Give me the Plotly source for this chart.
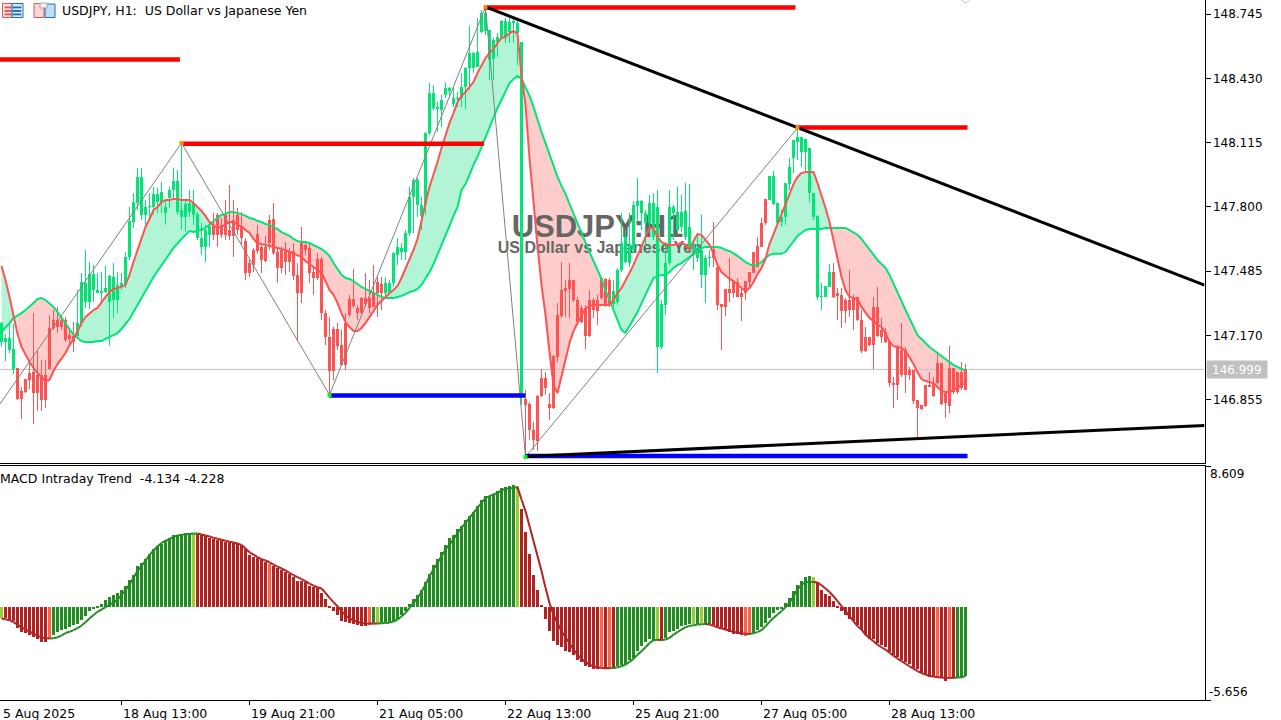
import plotly.graph_objects as go
from plotly.subplots import make_subplots

# USDJPY H1 candles, one row = 10 bars
highs = [
147.236,147.177,147.231,147.226,147.011,146.918,146.957,147.050,147.280,147.094,
147.050,147.050,147.270,147.295,147.310,147.270,147.261,147.197,147.236,147.393,
147.476,147.589,147.530,147.516,147.476,147.481,147.511,147.467,147.525,147.481,
147.476,147.579,147.800,147.868,147.991,147.991,147.834,147.868,147.898,147.893,
147.922,147.834,147.898,147.991,147.981,148.113,147.834,147.883,147.883,147.775,
147.721,147.712,147.726,147.770,147.770,147.746,147.834,147.908,147.834,147.795,
147.775,147.648,147.540,147.599,147.712,147.623,147.658,147.761,147.819,147.599,
147.604,147.628,147.599,147.623,147.525,147.702,147.628,147.623,147.501,147.574,
147.555,147.295,147.261,147.212,147.231,147.197,147.280,147.369,147.496,147.320,
147.359,147.476,147.442,147.516,147.457,147.457,147.457,147.442,147.579,147.648,
147.623,147.687,147.898,147.942,147.942,147.849,148.167,148.407,148.397,148.314,
148.349,148.412,148.388,148.388,148.363,148.456,148.486,148.687,148.559,148.726,
148.765,148.780,148.667,148.628,148.652,148.716,148.726,148.741,148.731,148.716,
148.608,146.903,146.844,146.746,146.879,147.006,146.991,146.888,147.075,147.329,
147.530,147.442,147.525,147.442,147.359,147.320,147.320,147.393,147.354,147.369,
147.452,147.452,147.452,147.442,147.501,147.770,147.687,147.770,147.829,147.942,
147.834,147.785,147.859,147.868,147.883,147.344,147.628,147.883,147.810,147.898,
147.859,147.917,147.912,147.638,147.663,147.761,147.565,147.589,147.726,147.506,
147.324,147.398,147.550,147.437,147.452,147.408,147.437,147.481,147.579,147.653,
147.746,147.839,147.952,147.976,147.819,147.785,147.883,148.040,148.128,148.187,
148.143,148.133,148.089,147.868,147.756,147.427,147.413,147.520,147.525,147.403,
147.403,147.354,147.491,147.369,147.359,147.295,147.212,147.163,147.359,147.408,
147.256,147.207,147.143,146.967,147.123,147.231,147.114,147.016,147.001,146.854,
146.830,146.928,146.991,146.967,147.089,147.035,146.888,147.119,147.011,146.991,
147.040,147.030]

body_tops = [
147.231,147.158,147.158,147.104,147.011,146.898,146.957,146.986,146.991,146.976,
146.976,146.976,147.207,147.246,147.246,147.246,147.246,147.173,147.168,147.231,
147.432,147.427,147.471,147.471,147.393,147.388,147.403,147.462,147.457,147.418,
147.427,147.555,147.731,147.824,147.947,147.947,147.800,147.805,147.863,147.863,
147.873,147.800,147.883,147.927,147.927,147.785,147.814,147.819,147.819,147.765,
147.648,147.687,147.707,147.712,147.761,147.712,147.761,147.687,147.736,147.761,
147.707,147.633,147.525,147.589,147.667,147.604,147.604,147.736,147.741,147.579,
147.589,147.589,147.579,147.584,147.467,147.628,147.614,147.599,147.481,147.545,
147.545,147.280,147.163,147.202,147.202,147.123,147.231,147.349,147.349,147.305,
147.354,147.354,147.354,147.383,147.432,147.422,147.427,147.427,147.574,147.604,
147.599,147.672,147.849,147.932,147.932,147.810,148.162,148.358,148.358,148.290,
148.324,148.383,148.383,148.334,148.334,148.388,148.481,148.554,148.554,148.559,
148.750,148.750,148.667,148.618,148.633,148.711,148.711,148.706,148.711,148.701,
148.608,146.859,146.834,146.707,146.874,146.962,146.962,146.834,147.070,147.270,
147.393,147.403,147.442,147.442,147.344,147.305,147.305,147.344,147.344,147.344,
147.452,147.447,147.442,147.388,147.491,147.623,147.653,147.614,147.810,147.829,
147.829,147.770,147.819,147.819,147.800,147.324,147.525,147.800,147.800,147.775,
147.775,147.780,147.702,147.614,147.599,147.589,147.550,147.555,147.594,147.506,
147.324,147.398,147.398,147.437,147.432,147.378,147.437,147.481,147.579,147.609,
147.721,147.839,147.952,147.952,147.819,147.751,147.917,147.996,148.128,148.143,
148.143,148.133,148.089,147.868,147.756,147.364,147.413,147.481,147.481,147.378,
147.369,147.344,147.344,147.354,147.359,147.246,147.163,147.163,147.310,147.310,
147.197,147.187,147.143,146.937,147.109,147.099,147.099,147.001,147.001,146.854,
146.830,146.928,146.928,146.937,147.035,147.035,146.888,147.011,147.011,146.991,
146.991,147.006]

body_bottoms = [
147.138,147.138,147.099,147.006,146.859,146.859,146.893,146.952,146.888,146.888,
146.854,146.854,147.006,147.207,147.212,147.212,147.148,147.153,147.138,147.168,
147.231,147.334,147.334,147.393,147.378,147.378,147.383,147.334,147.344,147.344,
147.408,147.418,147.555,147.726,147.819,147.761,147.761,147.800,147.800,147.824,
147.824,147.770,147.844,147.883,147.775,147.751,147.751,147.775,147.761,147.648,
147.604,147.604,147.663,147.663,147.663,147.663,147.663,147.658,147.658,147.687,
147.648,147.476,147.476,147.516,147.584,147.540,147.535,147.623,147.574,147.501,
147.501,147.530,147.530,147.462,147.378,147.378,147.589,147.476,147.452,147.452,
147.280,147.163,146.996,146.996,147.118,147.025,147.025,147.270,147.315,147.280,
147.280,147.324,147.305,147.310,147.378,147.378,147.378,147.383,147.427,147.565,
147.579,147.579,147.672,147.849,147.810,147.756,147.810,148.162,148.285,148.280,
148.275,148.349,148.368,148.304,148.329,148.334,148.388,148.481,148.481,148.486,
148.657,148.662,148.520,148.525,148.608,148.633,148.633,148.657,148.701,148.652,
146.888,146.830,146.707,146.658,146.653,146.874,146.913,146.815,146.815,147.065,
147.266,147.388,147.398,147.344,147.236,147.236,147.168,147.168,147.295,147.290,
147.354,147.320,147.320,147.324,147.334,147.491,147.530,147.525,147.589,147.805,
147.770,147.721,147.721,147.653,147.114,147.114,147.320,147.525,147.770,147.687,
147.702,147.653,147.599,147.565,147.550,147.467,147.467,147.550,147.550,147.320,
147.310,147.310,147.378,147.378,147.359,147.359,147.378,147.432,147.476,147.506,
147.604,147.721,147.834,147.814,147.721,147.726,147.751,147.912,148.040,148.118,
148.069,148.069,147.868,147.751,147.359,147.359,147.359,147.408,147.359,147.364,
147.290,147.290,147.295,147.295,147.246,147.094,147.094,147.123,147.123,147.168,
147.163,147.138,146.937,146.927,146.927,146.977,146.977,146.977,146.849,146.815,
146.810,146.825,146.918,146.874,146.937,146.834,146.839,146.825,146.893,146.893,
146.913,146.903]

lows = [
147.114,147.045,147.084,146.981,146.854,146.761,146.888,146.908,146.736,146.800,
146.800,146.815,147.006,147.197,147.183,147.197,147.138,147.123,147.089,147.163,
147.212,147.305,147.300,147.334,147.378,147.329,147.378,147.119,147.256,147.280,
147.393,147.403,147.540,147.697,147.785,147.736,147.712,147.736,147.761,147.770,
147.770,147.712,147.795,147.834,147.761,147.687,147.677,147.751,147.712,147.638,
147.564,147.530,147.604,147.638,147.604,147.648,147.638,147.638,147.555,147.663,
147.614,147.442,147.457,147.481,147.570,147.476,147.530,147.589,147.564,147.427,
147.476,147.467,147.481,147.442,147.143,147.329,147.564,147.427,147.369,147.442,
147.246,147.123,146.879,146.952,147.099,147.025,147.001,147.261,147.305,147.246,
147.275,147.310,147.280,147.310,147.261,147.295,147.359,147.369,147.408,147.516,
147.540,147.540,147.658,147.672,147.751,147.687,147.761,148.152,148.275,148.167,
148.192,148.334,148.339,148.290,148.290,148.290,148.280,148.373,148.456,148.486,
148.652,148.643,148.422,148.422,148.535,148.628,148.603,148.603,148.603,148.495,
146.830,146.575,146.658,146.609,146.604,146.869,146.879,146.756,146.810,147.040,
147.256,147.261,147.256,147.334,147.231,147.231,147.104,147.163,147.256,147.222,
147.344,147.310,147.310,147.310,147.320,147.481,147.525,147.506,147.574,147.726,
147.687,147.604,147.672,147.638,146.986,147.104,147.270,147.516,147.638,147.672,
147.677,147.638,147.589,147.491,147.530,147.403,147.329,147.506,147.506,147.295,
147.099,147.266,147.334,147.354,147.359,147.241,147.344,147.403,147.476,147.501,
147.604,147.712,147.834,147.809,147.712,147.702,147.712,147.883,147.966,148.030,
147.996,147.966,147.824,147.736,147.344,147.295,147.359,147.408,147.354,147.246,
147.207,147.231,147.261,147.197,147.241,147.084,147.089,147.118,147.006,147.163,
147.133,147.133,146.918,146.815,146.854,146.967,146.888,146.952,146.834,146.668,
146.805,146.820,146.918,146.869,146.932,146.829,146.766,146.790,146.883,146.883,
146.903,146.903]

# moving average pair that drives the candle colour and the band
ma_fast = [
147.511,147.442,147.359,147.270,147.177,147.114,147.075,147.040,147.011,146.986,
146.967,146.947,146.952,146.996,147.030,147.060,147.084,147.123,147.153,147.192,
147.231,147.261,147.280,147.295,147.305,147.334,147.359,147.383,147.398,147.403,
147.408,147.418,147.467,147.530,147.589,147.638,147.702,147.741,147.785,147.800,
147.824,147.834,147.834,147.839,147.839,147.834,147.834,147.834,147.819,147.800,
147.780,147.756,147.726,147.707,147.697,147.702,147.716,147.726,147.726,147.716,
147.702,147.687,147.672,147.643,147.623,147.618,147.614,147.609,147.604,147.599,
147.594,147.589,147.579,147.570,147.565,147.555,147.535,147.520,147.506,147.491,
147.476,147.437,147.393,147.369,147.329,147.280,147.236,147.212,147.192,147.192,
147.207,147.231,147.261,147.290,147.320,147.339,147.359,147.378,147.393,147.413,
147.452,147.496,147.540,147.589,147.643,147.736,147.819,147.898,147.957,148.020,
148.089,148.152,148.211,148.260,148.314,148.344,148.363,148.388,148.412,148.456,
148.495,148.530,148.554,148.574,148.603,148.628,148.633,148.652,148.662,148.647,
148.447,148.300,148.040,147.810,147.609,147.418,147.270,147.089,146.927,146.888,
146.967,147.060,147.133,147.192,147.231,147.270,147.300,147.315,147.320,147.320,
147.320,147.320,147.320,147.344,147.378,147.403,147.437,147.476,147.516,147.560,
147.604,147.653,147.697,147.697,147.653,147.628,147.618,147.614,147.614,147.618,
147.623,147.614,147.589,147.633,147.667,147.663,147.638,147.614,147.570,147.516,
147.481,147.462,147.447,147.437,147.418,147.403,147.388,147.403,147.432,147.471,
147.501,147.545,147.618,147.667,147.707,147.761,147.810,147.858,147.912,147.947,
147.966,147.971,147.971,147.971,147.917,147.858,147.795,147.726,147.638,147.540,
147.457,147.393,147.359,147.354,147.349,147.310,147.280,147.256,147.241,147.221,
147.212,147.182,147.138,147.118,147.114,147.109,147.094,147.065,147.030,146.991,
146.957,146.947,146.942,146.937,146.918,146.898,146.893,146.893,146.903,146.913,
146.928,146.937]

ma_slow = [
147.187,147.207,147.231,147.256,147.266,147.280,147.295,147.310,147.329,147.349,
147.354,147.344,147.329,147.310,147.285,147.256,147.226,147.197,147.173,147.158,
147.143,147.138,147.138,147.138,147.143,147.143,147.153,147.163,147.173,147.182,
147.202,147.226,147.251,147.285,147.320,147.359,147.393,147.422,147.457,147.486,
147.516,147.540,147.570,147.599,147.623,147.643,147.663,147.682,147.677,147.682,
147.687,147.697,147.716,147.731,147.746,147.761,147.766,147.775,147.775,147.770,
147.765,147.756,147.746,147.741,147.731,147.726,147.716,147.712,147.702,147.692,
147.677,147.667,147.658,147.643,147.633,147.628,147.628,147.623,147.614,147.604,
147.594,147.579,147.560,147.525,147.496,147.467,147.452,147.447,147.437,147.422,
147.408,147.398,147.388,147.378,147.369,147.359,147.354,147.354,147.354,147.359,
147.364,147.373,147.383,147.388,147.398,147.418,147.447,147.481,147.520,147.565,
147.614,147.663,147.707,147.756,147.800,147.883,147.912,147.957,148.006,148.045,
148.094,148.138,148.187,148.241,148.285,148.324,148.368,148.407,148.427,148.442,
148.427,148.388,148.344,148.290,148.226,148.167,148.113,148.054,147.996,147.947,
147.903,147.864,147.814,147.770,147.721,147.672,147.623,147.579,147.535,147.491,
147.447,147.393,147.344,147.295,147.246,147.197,147.183,147.217,147.251,147.285,
147.329,147.373,147.408,147.452,147.462,147.467,147.467,147.481,147.501,147.516,
147.525,147.540,147.555,147.570,147.584,147.599,147.604,147.604,147.604,147.604,
147.599,147.589,147.584,147.574,147.560,147.545,147.530,147.520,147.511,147.516,
147.530,147.550,147.565,147.570,147.570,147.570,147.579,147.604,147.633,147.658,
147.672,147.687,147.692,147.692,147.692,147.692,147.697,147.697,147.697,147.697,
147.697,147.697,147.687,147.677,147.663,147.643,147.618,147.589,147.565,147.540,
147.520,147.501,147.467,147.427,147.383,147.339,147.295,147.251,147.207,147.172,
147.153,147.133,147.114,147.099,147.084,147.069,147.055,147.040,147.025,147.016,
147.006,147.001]

# MACD Intraday Trend panel
macd_hist = [
-0.65,-0.65,-0.75,-0.85,-1.26,-1.52,-1.57,-1.67,-1.81,-1.91,
-2.13,-2.13,-1.91,-1.67,-1.52,-1.40,-1.30,-1.20,-1.10,-1.02,
-0.75,-0.55,-0.24,-0.08,0.08,0.20,0.47,0.61,0.77,0.87,
1.08,1.28,1.63,1.99,2.50,2.70,2.97,3.25,3.52,3.76,
3.88,4.07,4.23,4.43,4.43,4.49,4.53,4.55,4.49,4.49,
4.39,4.33,4.19,4.15,4.09,4.07,3.98,3.96,3.92,3.88,
3.82,3.52,3.21,3.05,3.01,2.91,2.74,2.66,2.54,2.40,
2.24,2.15,2.05,1.83,1.59,1.59,1.55,1.32,1.24,1.18,
0.87,0.53,0.04,-0.24,-0.49,-0.85,-0.89,-0.96,-1.02,-1.10,
-1.12,-1.16,-1.10,-0.98,-0.98,-0.96,-0.91,-0.89,-0.85,-0.69,
-0.49,-0.24,0.20,0.49,0.77,1.02,1.55,2.05,2.56,2.97,
3.37,3.82,4.23,4.43,4.74,4.94,5.29,5.55,5.81,6.16,
6.51,6.75,6.81,6.91,7.07,7.24,7.30,7.42,7.48,7.40,
5.96,4.59,3.27,1.99,1.02,0.16,-0.69,-1.46,-2.03,-2.32,
-2.44,-2.68,-2.72,-2.89,-3.19,-3.35,-3.60,-3.64,-3.74,-3.76,
-3.66,-3.76,-3.76,-3.78,-3.60,-3.50,-3.44,-3.19,-3.09,-2.68,
-2.38,-2.11,-1.91,-1.97,-1.99,-1.97,-1.87,-1.52,-1.42,-1.30,
-1.16,-1.06,-1.02,-1.02,-1.02,-0.98,-1.02,-1.02,-1.06,-1.20,
-1.26,-1.40,-1.52,-1.61,-1.61,-1.67,-1.73,-1.67,-1.57,-1.40,
-1.22,-0.96,-0.65,-0.35,-0.18,-0.08,0.28,0.57,0.98,1.34,
1.59,1.83,1.89,1.83,1.55,1.08,0.83,0.67,0.37,0.06,
-0.24,-0.49,-0.69,-0.85,-1.10,-1.36,-1.67,-1.91,-1.91,-2.18,
-2.28,-2.44,-2.72,-2.93,-3.05,-3.19,-3.33,-3.44,-3.70,-3.74,
-4.01,-4.15,-4.25,-4.27,-4.31,-4.31,-4.47,-4.31,-4.31,-4.31,
-4.31,-4.17]

macd_signal = [
-0.69,-0.73,-0.79,-0.91,-1.06,-1.22,-1.36,-1.48,-1.61,-1.73,
-1.83,-1.89,-1.91,-1.89,-1.83,-1.73,-1.57,-1.50,-1.40,-1.28,
-1.12,-0.91,-0.69,-0.47,-0.28,-0.14,0.00,0.14,0.28,0.47,
0.73,1.04,1.38,1.79,2.20,2.50,2.85,3.17,3.46,3.70,
3.92,4.05,4.15,4.29,4.37,4.41,4.45,4.47,4.49,4.49,
4.43,4.37,4.31,4.23,4.17,4.11,4.05,4.00,3.94,3.88,
3.80,3.58,3.35,3.21,3.05,2.93,2.85,2.74,2.60,2.48,
2.36,2.24,2.10,1.95,1.83,1.71,1.59,1.44,1.32,1.22,
1.14,0.87,0.57,0.31,0.06,-0.24,-0.49,-0.67,-0.81,-0.89,
-0.96,-1.00,-1.00,-1.00,-1.00,-0.98,-0.96,-0.94,-0.87,-0.75,
-0.57,-0.35,-0.04,0.26,0.57,0.93,1.38,1.89,2.30,2.70,
3.11,3.52,3.82,4.13,4.53,4.84,5.14,5.45,5.75,6.06,
6.36,6.67,6.77,6.87,6.97,7.12,7.22,7.24,7.28,7.32,
6.57,5.86,4.95,4.03,3.13,2.21,1.18,0.26,-0.45,-0.96,
-1.46,-1.83,-2.18,-2.58,-2.89,-3.15,-3.33,-3.50,-3.60,-3.66,
-3.70,-3.72,-3.72,-3.70,-3.66,-3.60,-3.50,-3.33,-3.15,-2.89,
-2.68,-2.44,-2.18,-2.01,-1.99,-2.01,-1.97,-1.87,-1.67,-1.52,
-1.36,-1.22,-1.14,-1.10,-1.06,-1.04,-1.02,-1.06,-1.14,-1.22,
-1.30,-1.36,-1.42,-1.50,-1.54,-1.59,-1.61,-1.63,-1.59,-1.52,
-1.40,-1.16,-0.89,-0.65,-0.45,-0.24,0.00,0.26,0.67,1.08,
1.38,1.52,1.54,1.54,1.50,1.34,1.14,0.93,0.67,0.37,
0.06,-0.24,-0.55,-0.85,-1.16,-1.36,-1.67,-1.87,-2.07,-2.28,
-2.44,-2.58,-2.78,-2.95,-3.13,-3.29,-3.44,-3.60,-3.74,-3.90,
-4.01,-4.11,-4.19,-4.23,-4.27,-4.29,-4.31,-4.31,-4.31,-4.29,
-4.27,-4.19]

# bar categories that the histogram colours follow
rising_runs = [(13, 47), (93, 128), (154, 163), (166, 172), (174, 174), (176, 177), (188, 202), (239, 241)]
turn_up_bars = [0, 48, 94, 129, 164, 173, 175, 203]
turn_down_bars = [12, 67, 92, 150, 152, 186, 187, 234, 237]

# swing points of the zigzag, as bar number and price
swing_bars = [-0.4, 45, 82, 121, 131, 199]
swing_prices = [146.834, 148.113, 146.879, 148.780, 146.575, 148.187]

# support / resistance levels: (first bar, last bar, price)
resistance_levels = [(-0.4, 44.6, 148.522), (45.4, 120.6, 148.110), (120.6, 198.5, 148.777), (199, 241.5, 148.189)]
support_levels = [(82, 131, 146.876), (131, 241.5, 146.579)]
trend_upper_bars = [121, 300.75]
trend_upper_prices = [148.780, 147.417]
trend_lower_bars = [131, 300.75]
trend_lower_prices = [146.577, 146.729]
last_price_level = 147.004

x_range = [-0.375, 300.75]
price_range = [146.5438, 148.814]
price_ticks = [148.745, 148.430, 148.115, 147.800, 147.485, 147.170, 146.855]
macd_range = [-5.656, 8.609]
time_tick_bars = [30, 62, 94, 126, 158, 190, 222]
time_labels = ["18 Aug 13:00", "19 Aug 21:00", "21 Aug 05:00", "22 Aug 13:00",
               "25 Aug 21:00", "27 Aug 05:00", "28 Aug 13:00"]

GREEN = "#00E676"
RED = "#FF5252"
W, H = 1281, 720
FONT = "DejaVu Sans"


def px(x):
    return x / W


def py(y):
    return 1 - y / H


bars = list(range(len(highs)))
is_up = [f >= s for f, s in zip(ma_fast, ma_slow)]

fig = make_subplots(rows=2, cols=1, shared_xaxes=True)

# band between the two averages, one polygon per trend run
start = 0
for i in range(1, len(bars) + 1):
    if i == len(bars) or is_up[i] != is_up[start]:
        end = min(i, len(bars) - 1)
        xs = bars[start:end + 1]
        fig.add_trace(go.Scatter(x=xs + xs[::-1],
                                 y=ma_fast[start:end + 1] + ma_slow[start:end + 1][::-1],
                                 mode="none", fill="toself",
                                 fillcolor="#B2F5D6" if is_up[start] else "#FFCCCC",
                                 hoverinfo="skip"), row=1, col=1)
        start = i

# watermark sits over the band but under the candles
fig.add_trace(go.Scatter(x=[149], y=[147.690], mode="text", text=["<b>USDJPY:H1</b>"],
                         textfont=dict(family="Liberation Sans", size=31, color="#666666"),
                         textposition="middle center", hoverinfo="skip"), row=1, col=1)
fig.add_trace(go.Scatter(x=[149.6], y=[147.595], mode="text", text=["<b>US Dollar vs Japanese Yen</b>"],
                         textfont=dict(family="Liberation Sans", size=16, color="#666666"),
                         textposition="middle center", hoverinfo="skip"), row=1, col=1)

fig.add_trace(go.Scatter(x=x_range, y=[last_price_level] * 2, mode="lines",
                         line=dict(color="#C0C0C0", width=1), hoverinfo="skip"), row=1, col=1)

# candles: colour comes from the trend, not from open/close
for up, color in ((True, GREEN), (False, RED)):
    wx, wy, bx, by = [], [], [], []
    for i in bars:
        if is_up[i] == up:
            wx += [i, i, None]
            wy += [highs[i], lows[i], None]
            bx += [i, i, None]
            by += [body_tops[i], body_bottoms[i], None]
    fig.add_trace(go.Scatter(x=wx, y=wy, mode="lines", line=dict(color=color, width=1), hoverinfo="skip"), row=1, col=1)
    fig.add_trace(go.Scatter(x=bx, y=by, mode="lines", line=dict(color=color, width=3), hoverinfo="skip"), row=1, col=1)

fig.add_trace(go.Scatter(x=bars, y=ma_slow, mode="lines", line=dict(color=GREEN, width=2)), row=1, col=1)
fig.add_trace(go.Scatter(x=bars, y=ma_fast, mode="lines", line=dict(color=RED, width=2)), row=1, col=1)

fig.add_trace(go.Scatter(x=swing_bars, y=swing_prices, mode="lines",
                         line=dict(color="#808080", width=1)), row=1, col=1)

for x0, x1, level in resistance_levels:
    fig.add_trace(go.Scatter(x=[x0, x1], y=[level, level], mode="lines",
                             line=dict(color="#FF0000", width=4.5)), row=1, col=1)
for x0, x1, level in support_levels:
    fig.add_trace(go.Scatter(x=[x0, x1], y=[level, level], mode="lines",
                             line=dict(color="#0000FF", width=4.5)), row=1, col=1)

fig.add_trace(go.Scatter(x=trend_upper_bars, y=trend_upper_prices, mode="lines",
                         line=dict(color="black", width=3)), row=1, col=1)
fig.add_trace(go.Scatter(x=trend_lower_bars, y=trend_lower_prices, mode="lines",
                         line=dict(color="black", width=3)), row=1, col=1)

fig.add_trace(go.Scatter(x=swing_bars[1:], y=swing_prices[1:], mode="markers",
                         marker=dict(symbol="square", size=4,
                                     color=["#FF8C00", "#00FF00", "#FF8C00", "#00FF00", "#FF8C00"])),
              row=1, col=1)

# MACD histogram
hist_colors = ["#B22222"] * len(bars)
for a, b in rising_runs:
    for i in range(a, b + 1):
        hist_colors[i] = "#228B22"
for i in turn_up_bars:
    hist_colors[i] = "#9ACD32"
for i in turn_down_bars:
    hist_colors[i] = "#FF6347"
fig.add_trace(go.Bar(x=bars, y=macd_hist, width=0.75, marker=dict(color=hist_colors, line=dict(width=0))),
              row=2, col=1)

# signal line, green while it climbs and red while it falls
rising = False
gx, gy, rx, ry = [], [], [], []
for i in bars[1:]:
    if macd_signal[i] != macd_signal[i - 1]:
        rising = macd_signal[i] > macd_signal[i - 1]
    tx, ty = (gx, gy) if rising else (rx, ry)
    tx += [i - 1, i, None]
    ty += [macd_signal[i - 1], macd_signal[i], None]
fig.add_trace(go.Scatter(x=gx, y=gy, mode="lines", line=dict(color="#228B22", width=2)), row=2, col=1)
fig.add_trace(go.Scatter(x=rx, y=ry, mode="lines", line=dict(color="#B22222", width=2)), row=2, col=1)

fig.update_xaxes(domain=[0, px(1204.5)], range=x_range, showgrid=False, zeroline=False)
fig.update_xaxes(showline=True, linecolor="black", linewidth=1, ticks="", row=1, col=1)
fig.update_xaxes(showline=True, mirror=True, linecolor="black", linewidth=1, ticks="outside", ticklen=4,
                 tickcolor="black", tickvals=time_tick_bars, showticklabels=False, row=2, col=1)
fig.update_yaxes(side="right", showgrid=False, zeroline=False, showline=True, linecolor="black", linewidth=1,
                 ticks="outside", ticklen=5, tickcolor="black")
fig.update_yaxes(domain=[py(463.3), 1], range=price_range, tickvals=price_ticks,
                 ticktext=["%.3f" % t for t in price_ticks],
                 tickfont=dict(family=FONT, size=12, color="black"), row=1, col=1)
fig.update_yaxes(domain=[py(700), py(466)], range=macd_range, tickvals=macd_range,
                 showticklabels=False, row=2, col=1)


def label(text, x, y, anchor="left", yanchor="middle", color="black", size=12.5):
    return dict(text=text, x=px(x), y=py(y), xref="paper", yref="paper", xanchor=anchor, yanchor=yanchor,
                showarrow=False, borderpad=0, font=dict(family=FONT, size=size, color=color))


notes = [
    label("USDJPY, H1:  US Dollar vs Japanese Yen", 61, 11),
    label("MACD Intraday Trend  -4.134 -4.228", -1, 478),
    label("8.609", 1209, 474, size=12),
    label("-5.656", 1208, 692, size=12),
    label("146.999", 1237, 370, anchor="center", color="white", size=12),
    label("5 Aug 2025", 2, 713),
]
for bar, text in zip(time_tick_bars, time_labels):
    notes.append(label(text, 1.5 + 4 * bar, 713))


def rect(x0, y0, x1, y1, line, fill="rgba(0,0,0,0)", width=1):
    return dict(type="rect", xref="paper", yref="paper", x0=px(x0), x1=px(x1), y0=py(y0), y1=py(y1),
                line=dict(color=line, width=width), fillcolor=fill)


# toolbar icons and the price tag on the axis
blue = "#1F6FB0"
pink = "#E05555"
decor = [
    rect(1207, 361, 1267, 378, "#C0C0C0", "#C0C0C0"),
    rect(2.5, 3.5, 12, 17.5, pink, "#FBDCDC"),
    rect(12, 3.5, 23, 17.5, blue, "#D6E8F7"),
    rect(5, 7, 11, 7.8, pink, pink),
    rect(5, 10.5, 11, 11.3, pink, pink),
    rect(5, 14, 11, 14.8, pink, pink),
    rect(13, 7, 21, 7.8, blue, blue),
    rect(13, 10.5, 21, 11.3, blue, blue),
    rect(13, 14, 21, 14.8, blue, blue),
    rect(34, 3.5, 44, 17.5, pink, "#FBD5D5"),
    rect(45, 4, 55, 17.5, blue, "#BFDDF5"),
    rect(40, 3, 47, 8, "#A8A8A8", "#F0F0F0"),
    dict(type="path", xref="paper", yref="paper",
         path="M %f,%f L %f,%f L %f,%f" % (px(961), py(0), px(966), py(3), px(970), py(0)),
         line=dict(color="#C8C8C8", width=1)),
]

fig.update_layout(width=W, height=H, margin=dict(l=0, r=0, t=0, b=0, pad=0), showlegend=False,
                  plot_bgcolor="white", paper_bgcolor="white", annotations=notes, shapes=decor,
                  bargap=0, hovermode=False)

fig.write_html("out.html", config={"displayModeBar": False},
               post_script="document.body.style.margin='0';document.body.style.overflow='hidden';")
